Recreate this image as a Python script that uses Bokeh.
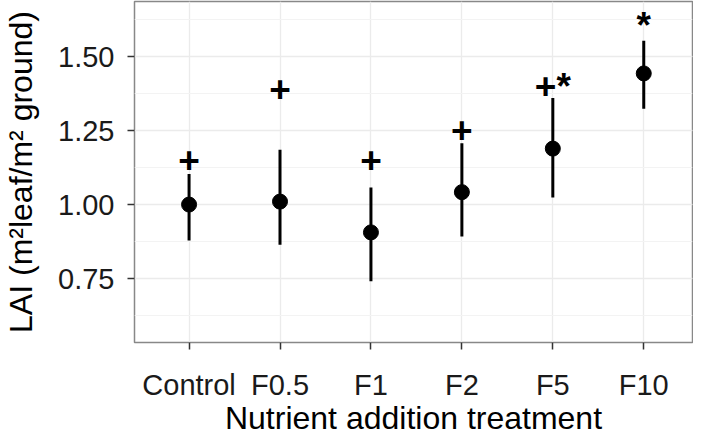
from bokeh.plotting import figure
from bokeh.models import Range1d, FixedTicker, SingleIntervalTicker, NumeralTickFormatter
from bokeh.core.properties import value
from bokeh.embed import file_html
from bokeh.resources import INLINE

treatments = ["Control", "F0.5", "F1", "F2", "F5", "F10"]
lai_mean = [1.000, 1.010, 0.906, 1.042, 1.189, 1.443]
lai_lower = [0.879, 0.864, 0.741, 0.892, 1.024, 1.324]
lai_upper = [1.103, 1.185, 1.058, 1.207, 1.360, 1.553]
sig_labels = ["+", "+", "+", "+", "+*", "*"]
sig_y = [1.152, 1.392, 1.150, 1.252, 1.398, 1.606]

xpos = list(range(1, len(treatments) + 1))
FONT = "Liberation Sans"

p = figure(width=693, height=440, output_backend="svg", toolbar_location=None,
           x_range=Range1d(0.4, 6.536), y_range=Range1d(0.534, 1.686),
           min_border_left=125, min_border_right=1, min_border_top=1, min_border_bottom=98)
p.background_fill_color = "white"
p.border_fill_color = "white"
p.outline_line_color = "#888888"
p.outline_line_width = 1.5

# grids
p.xaxis.ticker = FixedTicker(ticks=xpos)
p.xaxis.major_label_overrides = {x: t for x, t in zip(xpos, treatments)}
p.yaxis.ticker = SingleIntervalTicker(interval=0.25, num_minor_ticks=2)
p.yaxis.formatter = NumeralTickFormatter(format="0.00")
p.xgrid.grid_line_color = "#ebebeb"
p.xgrid.grid_line_width = 1.3
p.ygrid.grid_line_color = "#ebebeb"
p.ygrid.grid_line_width = 1.3
p.ygrid.minor_grid_line_color = "#f3f3f3"
p.ygrid.minor_grid_line_width = 1.0

for ax in (p.xaxis, p.yaxis):
    ax.axis_line_color = None
    ax.major_tick_line_color = "#333333"
    ax.major_tick_line_width = 1.5
    ax.major_tick_in = 0
    ax.major_tick_out = 7
    ax.minor_tick_line_color = None
    ax.major_label_text_font = FONT
    ax.major_label_text_font_size = "29px"
    ax.major_label_text_color = "#1a1a1a"
    ax.axis_label_text_font = FONT
    ax.axis_label_text_font_size = "32px"
    ax.axis_label_text_font_style = "normal"
    ax.axis_label_text_color = "#000000"

p.xaxis.axis_label = "Nutrient addition treatment"
p.yaxis.axis_label = "LAI (m\u00b2leaf/m\u00b2 ground)"
p.xaxis.axis_label_text_line_height = 0.8
p.xaxis.major_label_standoff = 19
p.xaxis.axis_label_standoff = -4
p.yaxis.major_label_standoff = 13
p.yaxis.axis_label_standoff = 16

p.segment(x0=xpos, y0=lai_lower, x1=xpos, y1=lai_upper, line_color="black", line_width=3)
p.scatter(x=xpos, y=lai_mean, size=15, marker="circle", fill_color="black", line_color="black")
p.text(x=xpos, y=sig_y, text=sig_labels, text_font=value(FONT), text_font_style="bold",
       text_font_size="37px", text_align="center", text_baseline="middle", text_color="black")

open("out.html", "w").write(file_html(p, INLINE))
